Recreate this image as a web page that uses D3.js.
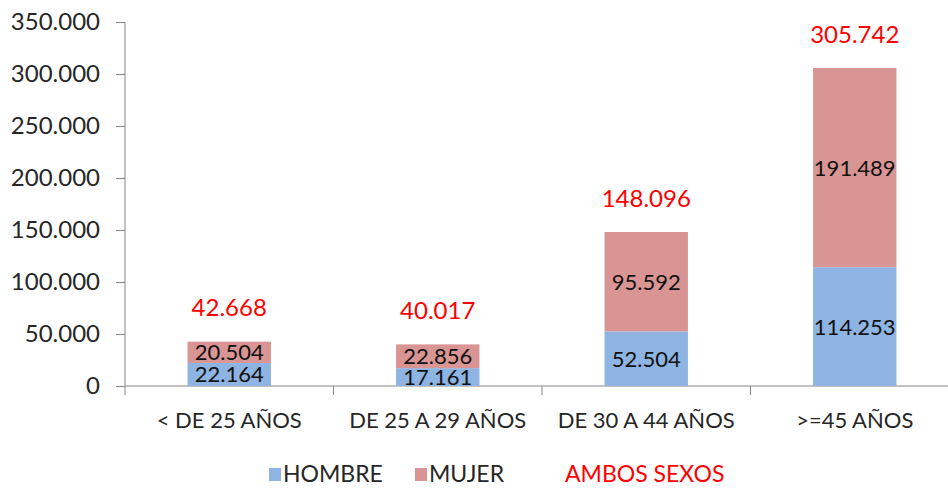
<!DOCTYPE html>
<html>
<head>
<meta charset="utf-8">
<script src="https://d3js.org/d3.v7.min.js"></script>
<style>
  body { margin: 0; background: #fff; }
  svg, svg text { font-family: Lato, "Open Sans", sans-serif; }
</style>
</head>
<body>
<svg id="chart"></svg>
<script>
  // data
  var categories = ['< DE 25 AÑOS', 'DE 25 A 29 AÑOS', 'DE 30 A 44 AÑOS', '>=45 AÑOS']
  var hombre = [22164, 17161, 52504, 114253]
  var mujer = [20504, 22856, 95592, 191489]
  var ambos = [42668, 40017, 148096, 305742]
  var yTicks = [0, 50000, 100000, 150000, 200000, 250000, 300000, 350000]

  var W = 948, H = 488
  var svg = d3.select('#chart').attr('width', W).attr('height', H)

  var x = d3.scaleBand().domain(categories).range([125, 959]).paddingInner(0.6).paddingOuter(0.3)
  var y = d3.scaleLinear().domain([0, 350000]).range([386, 22])

  var fmt = function (v) { return d3.format(',')(v).replace(/,/g, '.') }

  var rows = categories.map(function (c, i) {
    return { cat: c, HOMBRE: hombre[i], MUJER: mujer[i], total: ambos[i] }
  })
  var stack = d3.stack().keys(['HOMBRE', 'MUJER'])(rows)
  var colors = { HOMBRE: '#8db4e2', MUJER: '#d99594' }

  // y axis
  var yAxis = svg.append('g').attr('transform', 'translate(125,0)')
    .call(d3.axisLeft(y).tickValues(yTicks).tickSize(9).tickPadding(16).tickFormat(fmt))
  yAxis.attr('font-family', null)
  yAxis.select('.domain').attr('stroke', '#868686').attr('d', 'M0,22V395')
  yAxis.selectAll('.tick line').attr('stroke', '#868686')
  yAxis.selectAll('text').attr('font-size', 24).attr('fill', '#262626')

  // x axis
  var xAxis = svg.append('g').attr('transform', 'translate(0,386)')
    .call(d3.axisBottom(x).tickSize(0).tickPadding(0))
  xAxis.attr('font-family', null)
  xAxis.select('.domain').attr('stroke', '#868686').attr('d', 'M125,0H959')
  xAxis.selectAll('text').attr('font-size', 22).attr('fill', '#262626').attr('dy', null).attr('y', 42)
  var step = x.step()
  xAxis.selectAll('.sep').data(d3.range(1, 4)).enter().append('line')
    .attr('x1', function (d) { return 125 + d * step })
    .attr('x2', function (d) { return 125 + d * step })
    .attr('y1', 0).attr('y2', 9).attr('stroke', '#868686')

  // bars
  var layers = svg.selectAll('.layer').data(stack).enter().append('g')
    .attr('fill', function (d) { return colors[d.key] })
  layers.selectAll('rect').data(function (d) { return d }).enter().append('rect')
    .attr('x', function (d) { return x(d.data.cat) })
    .attr('width', x.bandwidth())
    .attr('y', function (d) { return y(d[1]) })
    .attr('height', function (d) { return y(d[0]) - y(d[1]) })

  // segment labels
  layers.selectAll('text').data(function (d) { return d }).enter().append('text')
    .attr('x', function (d) { return x(d.data.cat) + x.bandwidth() / 2 })
    .attr('y', function (d) { return (y(d[0]) + y(d[1])) / 2 })
    .attr('dy', '0.36em').attr('text-anchor', 'middle')
    .attr('font-size', 22).attr('fill', '#111')
    .text(function (d) { return fmt(d[1] - d[0]) })

  // totals
  svg.selectAll('.total').data(rows).enter().append('text')
    .attr('x', function (d) { return x(d.cat) + x.bandwidth() / 2 })
    .attr('y', function (d) { return y(d.total) - 34 })
    .attr('dy', '0.36em').attr('text-anchor', 'middle')
    .attr('font-size', 24).attr('fill', '#ff0000')
    .text(function (d) { return fmt(d.total) })

  // legend
  var legend = svg.append('g').attr('font-size', 23)
  var items = [
    { label: 'HOMBRE', color: colors.HOMBRE, x: 269, text: '#262626' },
    { label: 'MUJER', color: colors.MUJER, x: 415, text: '#262626' },
    { label: 'AMBOS SEXOS', color: null, x: 565, text: '#ff0000' }
  ]
  items.forEach(function (it) {
    if (it.color) {
      legend.append('rect').attr('x', it.x).attr('y', 468).attr('width', 12).attr('height', 13).attr('fill', it.color)
      legend.append('text').attr('x', it.x + 14).attr('y', 482).attr('fill', it.text).text(it.label)
    } else {
      legend.append('text').attr('x', it.x).attr('y', 482).attr('fill', it.text).text(it.label)
    }
  })
</script>
</body>
</html>
